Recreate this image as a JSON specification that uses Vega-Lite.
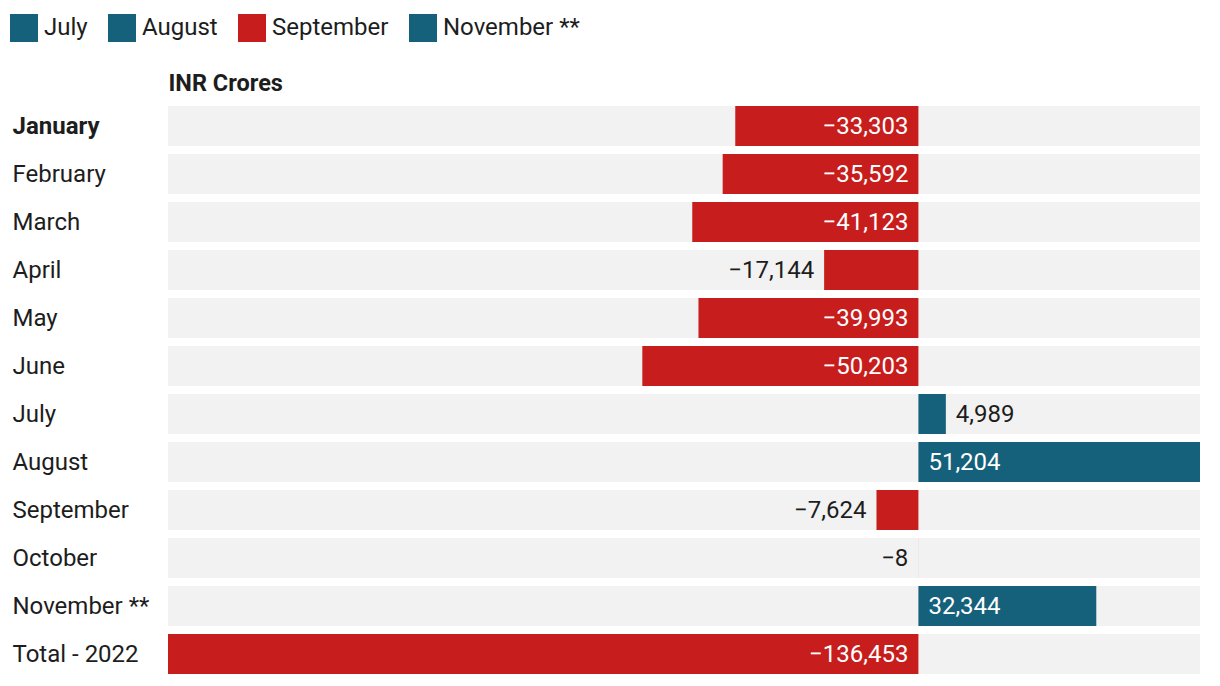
{
  "$schema": "https://vega.github.io/schema/vega-lite/v6.json",
  "autosize": {"type": "none"},
  "padding": {"left": 168, "top": 102, "right": 20, "bottom": 8},
  "width": 1032,
  "height": 576,
  "background": "white",
  "config": {
    "view": {"stroke": null},
    "font": "Roboto",
    "text": {"font": "Roboto", "fontSize": 24}
  },
  "data": {
    "values": [
      {"month": "January", "value": -33303},
      {"month": "February", "value": -35592},
      {"month": "March", "value": -41123},
      {"month": "April", "value": -17144},
      {"month": "May", "value": -39993},
      {"month": "June", "value": -50203},
      {"month": "July", "value": 4989},
      {"month": "August", "value": 51204},
      {"month": "September", "value": -7624},
      {"month": "October", "value": -8},
      {"month": "November **", "value": 32344},
      {"month": "Total - 2022", "value": -136453}
    ]
  },
  "encoding": {
    "y": {
      "field": "month",
      "type": "nominal",
      "sort": null,
      "scale": {"paddingInner": 0.1667, "paddingOuter": 0.0833},
      "axis": {
        "title": "INR Crores",
        "titleAngle": 0,
        "titleAlign": "left",
        "titleBaseline": "alphabetic",
        "titleX": 0,
        "titleY": -12,
        "titleFont": "Roboto",
        "titleFontSize": 23.5,
        "titleFontWeight": "bold",
        "titleColor": "#1d1d1d",
        "domain": false,
        "ticks": false,
        "grid": false,
        "labelAlign": "left",
        "labelBaseline": "middle",
        "labelPadding": 156,
        "labelOffset": 1,
        "labelLimit": 300,
        "labelFont": "Roboto",
        "labelFontSize": 24,
        "labelColor": "#1d1d1d",
        "labelFontWeight": {"condition": {"test": "datum.value === 'January'", "value": "bold"}, "value": "normal"}
      }
    }
  },
  "layer": [
    {
      "mark": {"type": "bar", "color": "#f2f2f2"},
      "encoding": {
        "x": {"datum": -136453, "type": "quantitative", "scale": {"domain": [-136453, 51204], "nice": false, "zero": false}, "axis": null},
        "x2": {"datum": 51204}
      }
    },
    {
      "mark": {"type": "bar"},
      "encoding": {
        "x": {"field": "value", "type": "quantitative"},
        "x2": {"datum": 0},
        "color": {
          "field": "month",
          "type": "nominal",
          "scale": {
            "domain": ["January", "February", "March", "April", "May", "June", "July", "August", "September", "October", "November **", "Total - 2022"],
            "range": ["#c71e1d", "#c71e1d", "#c71e1d", "#c71e1d", "#c71e1d", "#c71e1d", "#15607a", "#15607a", "#c71e1d", "#c71e1d", "#15607a", "#c71e1d"]
          },
          "legend": {
            "values": ["July", "August", "September", "November **"],
            "title": null,
            "orient": "none",
            "direction": "horizontal",
            "legendX": -158,
            "legendY": -88,
            "symbolType": "square",
            "symbolSize": 784,
            "symbolStrokeWidth": 0,
            "symbolOpacity": 1,
            "labelFont": "Roboto",
            "labelFontSize": 24,
            "labelColor": "#1d1d1d",
            "labelOffset": 6,
            "columnPadding": 20
          }
        }
      }
    },
    {
      "transform": [{"filter": "datum.value < -20000"}],
      "mark": {"type": "text", "align": "right", "baseline": "middle", "dx": -10, "dy": 1, "color": "white"},
      "encoding": {"x": {"datum": 0}, "text": {"field": "value", "type": "quantitative", "format": ","}}
    },
    {
      "transform": [{"filter": "datum.value > 20000"}],
      "mark": {"type": "text", "align": "left", "baseline": "middle", "dx": 10, "dy": 1, "color": "white"},
      "encoding": {"x": {"datum": 0}, "text": {"field": "value", "type": "quantitative", "format": ","}}
    },
    {
      "transform": [{"filter": "datum.value < 0 && datum.value >= -20000"}],
      "mark": {"type": "text", "align": "right", "baseline": "middle", "dx": -10, "dy": 1, "color": "#1d1d1d"},
      "encoding": {"x": {"field": "value", "type": "quantitative"}, "text": {"field": "value", "type": "quantitative", "format": ","}}
    },
    {
      "transform": [{"filter": "datum.value > 0 && datum.value <= 20000"}],
      "mark": {"type": "text", "align": "left", "baseline": "middle", "dx": 10, "dy": 1, "color": "#1d1d1d"},
      "encoding": {"x": {"field": "value", "type": "quantitative"}, "text": {"field": "value", "type": "quantitative", "format": ","}}
    }
  ]
}
